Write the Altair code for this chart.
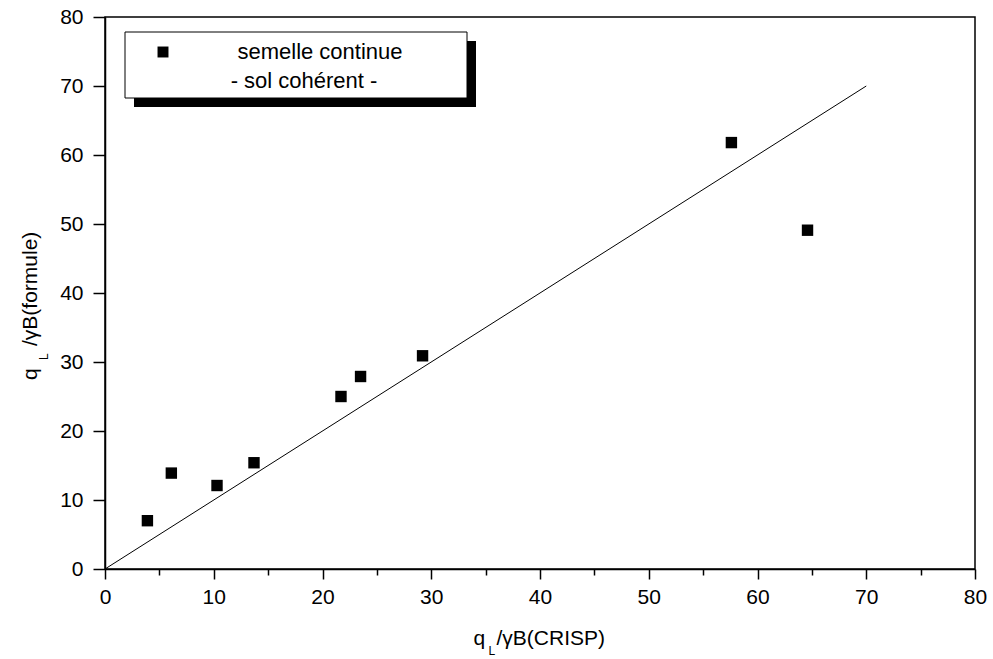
import altair as alt
import pandas as pd

# Data
crisp = [3.9, 6.1, 10.3, 13.7, 21.7, 23.5, 29.2, 57.6, 64.6]
formule = [7.0, 13.9, 12.1, 15.4, 25.0, 27.9, 30.9, 61.8, 49.1]
line_x = [0, 70]
line_y = [0, 70]
tick_vals = list(range(0, 81, 5))

pts = pd.DataFrame({"x": crisp, "y": formule})
ln = pd.DataFrame({"x": line_x, "y": line_y})
one = pd.DataFrame({"a": [0]})

FONT = "Liberation Sans"

xscale = alt.Scale(domain=[0, 80], nice=False, zero=False)
yscale = alt.Scale(domain=[0, 80], nice=False, zero=False)

label_expr = "datum.value % 10 === 0 ? datum.label : ''"

xaxis = alt.Axis(
    values=tick_vals, title=None, grid=False, labelExpr=label_expr,
    tickSize={"condition": {"test": "datum.value % 10 === 0", "value": 10}, "value": 6},
    labelPadding=7, labelFontSize=21, labelFont=FONT, labelColor="black",
    tickColor="black", domainColor="black", tickWidth=1.5, domainWidth=1.5,
    labelFlush=False, labelOverlap=False,
)
yaxis = alt.Axis(
    values=tick_vals, title=None, grid=False, labelExpr=label_expr,
    tickSize={"condition": {"test": "datum.value % 10 === 0", "value": 12}, "value": 7},
    labelPadding=10, labelFontSize=21, labelFont=FONT, labelColor="black",
    tickColor="black", domainColor="black", tickWidth=1.5, domainWidth=1.5,
    labelFlush=False, labelOverlap=False,
)

line = alt.Chart(ln).mark_line(color="black", strokeWidth=1).encode(
    x=alt.X("x:Q", scale=xscale, axis=xaxis),
    y=alt.Y("y:Q", scale=yscale, axis=yaxis),
)

points = alt.Chart(pts).mark_square(color="black", opacity=1, size=130).encode(
    x=alt.X("x:Q", scale=xscale),
    y=alt.Y("y:Q", scale=yscale),
)

# Legend box with shadow
shadow = alt.Chart(one).mark_rect(color="black").encode(
    x=alt.value(29), x2=alt.value(371), y=alt.value(24), y2=alt.value(90)
)
box = alt.Chart(one).mark_rect(fill="white", stroke="black", strokeWidth=1).encode(
    x=alt.value(20), x2=alt.value(362), y=alt.value(15), y2=alt.value(81)
)
leg_marker = alt.Chart(one).mark_square(color="black", opacity=1, size=120).encode(
    x=alt.value(58), y=alt.value(35)
)
leg_t1 = alt.Chart(one).mark_text(
    text="semelle continue", font=FONT, fontSize=22, align="center", baseline="alphabetic", fill="black"
).encode(x=alt.value(215), y=alt.value(42))
leg_t2 = alt.Chart(one).mark_text(
    text="- sol cohérent -", font=FONT, fontSize=22, align="center", baseline="alphabetic", fill="black"
).encode(x=alt.value(199), y=alt.value(71))

# X axis title: q_L/γB(CRISP)
xt_q = alt.Chart(one).mark_text(
    text="q", font=FONT, fontSize=21, align="left", baseline="alphabetic", fill="black"
).encode(x=alt.value(368.5), y=alt.value(628))
xt_l = alt.Chart(one).mark_text(
    text="L", font=FONT, fontSize=12, align="left", baseline="alphabetic", fill="black"
).encode(x=alt.value(383.5), y=alt.value(638))
xt_m = alt.Chart(one).mark_text(
    text="/γB(CRISP)", font=FONT, fontSize=21, align="left", baseline="alphabetic", fill="black"
).encode(x=alt.value(391.5), y=alt.value(628))

# Y axis title: q_L/γB(formule)
yt_q = alt.Chart(one).mark_text(
    text="q", font=FONT, fontSize=21, align="left", baseline="alphabetic", angle=270, fill="black"
).encode(x=alt.value(-68), y=alt.value(363))
yt_l = alt.Chart(one).mark_text(
    text="L", font=FONT, fontSize=12, align="left", baseline="alphabetic", angle=270, fill="black"
).encode(x=alt.value(-57), y=alt.value(343))
yt_m = alt.Chart(one).mark_text(
    text="/γB(formule)", font=FONT, fontSize=21, align="left", baseline="alphabetic", angle=270, fill="black"
).encode(x=alt.value(-68), y=alt.value(329))

chart = alt.layer(
    line, points, shadow, box, leg_marker, leg_t1, leg_t2,
    xt_q, xt_l, xt_m, yt_q, yt_l, yt_m,
).properties(
    width=870, height=552,
    autosize=alt.AutoSizeParams(type="none"),
    padding={"left": 105, "top": 17, "right": 18, "bottom": 90},
    background="white",
).configure_view(
    stroke="black", strokeWidth=1.5
)

chart.save("out.html", embed_options={"renderer": "svg", "actions": False})
